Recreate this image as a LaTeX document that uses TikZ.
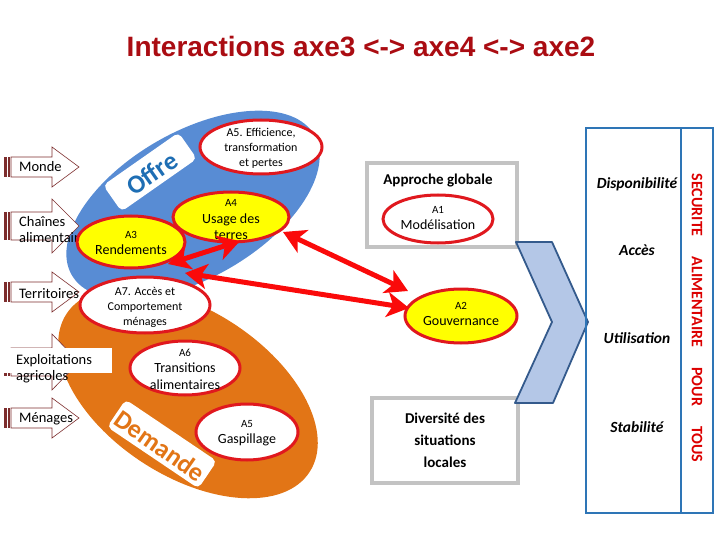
\documentclass[tikz,border=0pt]{standalone}
\usepackage{fontspec}
\setmainfont{Carlito}
\newfontfamily\titlefont{Liberation Sans}
\usetikzlibrary{shapes.geometric,arrows.meta}
\definecolor{offreblue}{RGB}{88,140,212}
\definecolor{offretext}{RGB}{30,110,180}
\definecolor{demorange}{RGB}{226,117,22}
\definecolor{ellred}{RGB}{224,24,30}
\definecolor{ellyellow}{RGB}{255,255,0}
\definecolor{arrred}{RGB}{250,10,10}
\definecolor{titlered}{RGB}{170,12,18}
\definecolor{boxgray}{RGB}{195,195,195}
\definecolor{chevfill}{RGB}{180,199,231}
\definecolor{chevline}{RGB}{52,90,140}
\definecolor{panelblue}{RGB}{46,117,182}
\definecolor{secred}{RGB}{220,0,0}
\definecolor{tailbrown}{RGB}{125,45,45}
\tikzset{
  zone/.style n args={2}{ellipse, inner sep=0pt, minimum width=#1, minimum height=#2},
  aell/.style n args={2}{ellipse, draw=ellred, line width=3pt, inner sep=0pt, minimum width=#1, minimum height=#2},
  wfill/.style={fill=white},
  yfill/.style={fill=ellyellow},
  etext/.style={align=center, inner sep=0pt, font=\fontsize{14}{16.5}\selectfont},
  stext/.style={align=center, inner sep=0pt, font=\fontsize{12}{15}\selectfont},
  ltext/.style={inner sep=0pt, anchor=west, font=\fontsize{14.5}{16}\selectfont},
  redarrow/.style={draw=arrred, line width=5pt, {Stealth[length=22pt,width=25pt,inset=6pt]}-{Stealth[length=22pt,width=25pt,inset=6pt]}},
  graybox/.style={draw=boxgray, line width=4pt, fill=white, inner sep=0pt},
  paneltext/.style={font=\bfseries\itshape\fontsize{15.5}{17}\selectfont, inner sep=0pt},
  biglabel/.style={font=\bfseries\fontsize{26}{28}\selectfont, inner sep=0pt},
  labelbox/.style={fill=white, rounded corners=5pt, inner sep=0pt},
  pics/larrow/.style n args={2}{code={
    \fill[tailbrown] (4,-#1) rectangle (6.5,#1);
    \fill[tailbrown] (8,-#1) rectangle (9.5,#1);
    \draw[tailbrown, line width=0.6pt, fill=white] (11,-#1) -- (52,-#1) -- (52,-#2) -- (79,0) -- (52,#2) -- (52,#1) -- (11,#1) -- cycle;
  }}
}
\newcommand{\smalltag}[1]{{\fontsize{11}{13}\selectfont #1}}
\begin{document}
\begin{tikzpicture}[x=1pt,y=-1pt]
\useasboundingbox (0,0) rectangle (720,540);

% title
\node[font=\titlefont\bfseries\fontsize{28}{32}\selectfont, text=titlered] (title) at (361,47) {Interactions axe3 <-> axe4 <-> axe2};

% big zones
\node[zone={280}{146}, fill=offreblue, rotate=30] (offre) at (193,205) {};
\node[zone={290}{166}, fill=demorange, rotate=-33] (demande) at (188,393) {};

\node[labelbox, minimum width=92pt, minimum height=32pt, rotate=35] (offrebox) at (150,172) {};
\node[biglabel, text=offretext, rotate=35] (offrelbl) at (152,173) {Offre};
\node[labelbox, minimum width=110pt, minimum height=33pt, rotate=-34] (demandebox) at (162,444) {};
\node[biglabel, text=demorange, rotate=-35] (demandelbl) at (160,446) {Demande};

% left arrows
\pic (monde) at (0,167) {larrow={10}{20}};
\node[ltext] (mondet) at (19,167) {Monde};
\pic (chaines) at (0,226) {larrow={14}{27}};
\node[ltext, align=left] (chainest) at (19,230) {Chaînes\\alimentaires};
\pic (terr) at (0,292) {larrow={10}{20}};
\node[ltext] (terrt) at (19,294) {Territoires};
\pic (expl) at (0,362) {larrow={14}{28}};
\node[fill=white, minimum width=112pt, minimum height=25pt, inner sep=0pt, anchor=north west] (explbox) at (0,348) {};
\node[ltext, align=left] (explt) at (16,369) {Exploitations\\agricoles};
\pic (menages) at (0,418) {larrow={10}{20}};
\node[ltext] (menagest) at (19,419) {Ménages};

% A-ellipses
\node[aell={122}{54}, wfill] (a5e) at (261,147) {};
\node[stext] (a5et) at (261,148) {A5. Efficience,\\transformation\\et pertes};
\node[aell={116}{50}, yfill] (a4) at (231,217) {};
\node[etext] (a4t) at (231,220) {\smalltag{A4}\\Usage des\\terres};
\node[aell={108}{52}, yfill] (a3) at (131,242) {};
\node[etext] (a3t) at (131,243) {\smalltag{A3}\\Rendements};
\node[aell={130}{56}, wfill] (a7) at (145,305) {};
\node[stext] (a7t) at (145,307) {A7. Accès et\\Comportement\\ménages};
\node[aell={110}{54}, wfill] (a6) at (185,368) {};
\node[etext] (a6t) at (185,369) {\smalltag{A6}\\Transitions\\alimentaires};
\node[aell={102}{56}, wfill] (a5g) at (247,432) {};
\node[etext] (a5gt) at (247,433) {\smalltag{A5}\\Gaspillage};

% right-hand boxes
\node[graybox, minimum width=150pt, minimum height=84pt] (approche) at (442,205) {};
\node[font=\bfseries\fontsize{15}{17}\selectfont, inner sep=0pt] (approchet) at (438,181) {Approche globale};
\node[aell={110}{48}, wfill] (a1) at (438,219) {};
\node[etext] (a1t) at (438,218) {\smalltag{A1}\\Modélisation};
\node[aell={112}{54}, yfill] (a2) at (461,316) {};
\node[etext] (a2t) at (461,314) {\smalltag{A2}\\Gouvernance};
\node[graybox, minimum width=146pt, minimum height=85pt, align=center, font=\bfseries\fontsize{15}{22}\selectfont] (diversite) at (445,440) {Diversité des\\situations\\locales};

% chevron
\coordinate (c1) at (516,242);
\coordinate (c2) at (552,242);
\coordinate (c3) at (588,322);
\coordinate (c4) at (553,403);
\coordinate (c5) at (515,403);
\coordinate (c6) at (552,322);
\draw[fill=chevfill, draw=chevline, line width=1.8pt, line join=round] (c1) -- (c2) -- (c3) -- (c4) -- (c5) -- (c6) -- cycle;

% red double arrows
\coordinate (r1a) at (168,264);
\coordinate (r1b) at (240,241);
\coordinate (r2a) at (283,232);
\coordinate (r2b) at (408,291);
\coordinate (r3a) at (185,273);
\coordinate (r3b) at (409,308);
\draw[redarrow] (r1a) -- (r1b);
\draw[redarrow] (r2a) -- (r2b);
\draw[redarrow] (r3a) -- (r3b);

% panel
\node[draw=panelblue, line width=2.5pt, minimum width=127pt, minimum height=385pt, inner sep=0pt] (panel) at (649.5,320.5) {};
\coordinate (dtop) at (681,128);
\coordinate (dbot) at (681,513);
\draw[panelblue, line width=2.5pt] (dtop) -- (dbot);
\node[paneltext] (disp) at (637,184) {Disponibilité};
\node[paneltext] (acces) at (637,250) {Accès};
\node[paneltext] (util) at (637,338) {Utilisation};
\node[paneltext] (stab) at (637,427) {Stabilité};
\node[rotate=-90, text=secred, font=\bfseries\fontsize{16}{18}\selectfont, inner sep=0pt] (secu) at (697,318) {SECURITE\hspace{20pt}ALIMENTAIRE\hspace{20pt}POUR\hspace{20pt}TOUS};
\end{tikzpicture}
\end{document}
